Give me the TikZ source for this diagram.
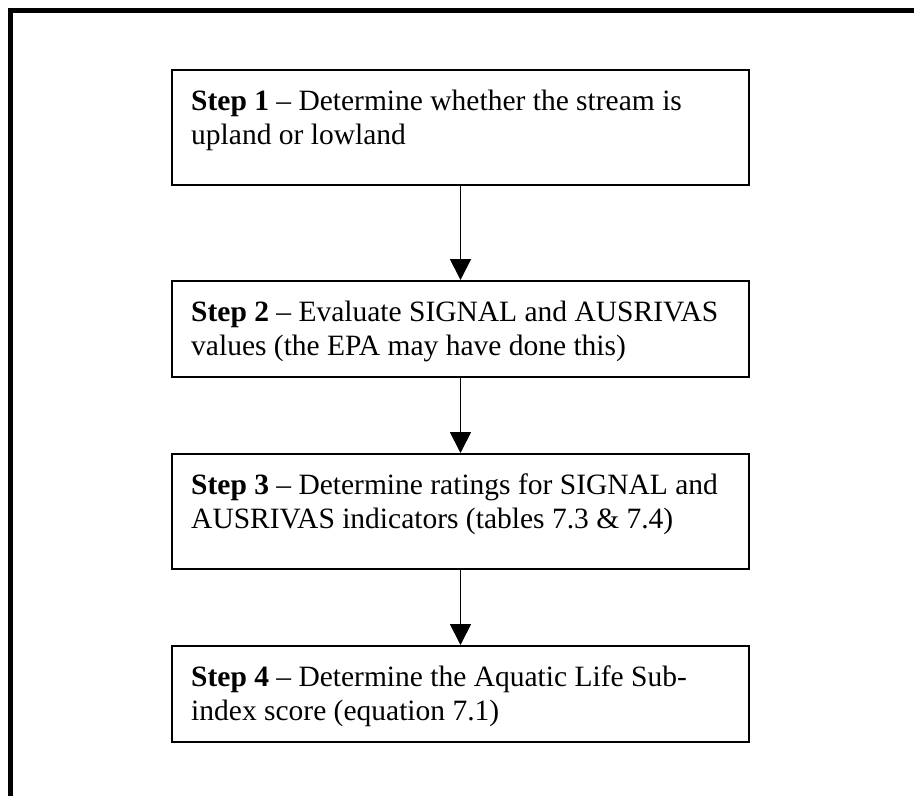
\documentclass[tikz,border=0pt]{standalone}
\usepackage{fontspec}
\setmainfont{Liberation Serif}
\usetikzlibrary{arrows.meta,calc}
\begin{document}
\begin{tikzpicture}[x=1pt,y=-1pt,
  stepbox/.style={draw, line width=2pt, minimum width=577pt, inner sep=0pt, anchor=center},
  steptext/.style={anchor=base west, inner sep=0pt, font=\fontsize{29.5}{34}\selectfont},
  flow/.style={line width=1.8pt, -{Triangle[width=21pt,length=21pt]}}]
  \useasboundingbox (0,0) rectangle (914,796);
  % page frame: top and left rules
  \draw[line width=5pt, line join=miter] (10.5,796) -- (10.5,10.5) -- (914,10.5);
  % step boxes
  \node[stepbox, minimum height=115.5pt] (s1) at (460.5,127.25) {};
  \node[stepbox, minimum height=96pt]    (s2) at (460.5,329) {};
  \node[stepbox, minimum height=115pt]   (s3) at (460.5,511.5) {};
  \node[stepbox, minimum height=96pt]    (s4) at (460.5,694) {};
  % box texts
  \node[steptext] (t1) at ($(s1.north west)+(20,41.5)$) {\parbox[t]{560pt}{\textbf{Step 1} -- Determine whether the stream is\\upland or lowland}};
  \node[steptext] (t2) at ($(s2.north west)+(20,41.5)$) {\parbox[t]{560pt}{\textbf{Step 2} -- Evaluate SIGNAL and AUSRIVAS\\values (the EPA may have done this)}};
  \node[steptext] (t3) at ($(s3.north west)+(20,41.5)$) {\parbox[t]{560pt}{\textbf{Step 3} -- Determine ratings for SIGNAL and\\AUSRIVAS indicators (tables 7.3 \& 7.4)}};
  \node[steptext] (t4) at ($(s4.north west)+(20,41.5)$) {\parbox[t]{560pt}{\textbf{Step 4} -- Determine the Aquatic Life Sub-\\index score (equation 7.1)}};
  % connectors
  \draw[flow] (s1.south) -- (s2.north);
  \draw[flow] (s2.south) -- (s3.north);
  \draw[flow] (s3.south) -- (s4.north);
\end{tikzpicture}
\end{document}
